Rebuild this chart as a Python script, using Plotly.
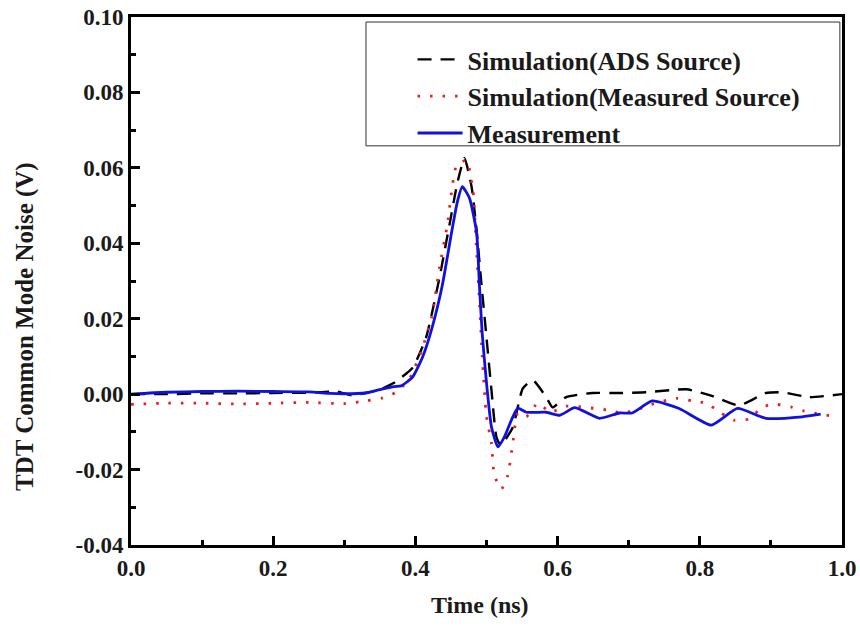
import plotly.graph_objects as go

# Measurement
t_meas = [0, 0.05, 0.1, 0.15, 0.2, 0.25, 0.28, 0.3, 0.33, 0.35, 0.37, 0.38, 0.396, 0.41, 0.424,
          0.438, 0.451, 0.459, 0.466, 0.476, 0.486, 0.49, 0.494, 0.5, 0.507, 0.516, 0.525, 0.535,
          0.544, 0.556, 0.584, 0.603, 0.624, 0.659, 0.687, 0.705, 0.733, 0.771, 0.816, 0.853,
          0.893, 0.944, 0.97]
v_meas = [0.0, 0.0005, 0.0007, 0.0008, 0.0007, 0.0006, 0.0002, 0.0001, 0.0003, 0.0012, 0.002,
          0.0022, 0.0045, 0.0098, 0.018, 0.029, 0.043, 0.051, 0.055, 0.052, 0.043, 0.029, 0.016,
          0.003, -0.0087, -0.014, -0.0114, -0.0069, -0.0037, -0.0048, -0.0048, -0.0056, -0.0036,
          -0.0064, -0.005, -0.005, -0.0018, -0.0038, -0.0082, -0.0038, -0.0064, -0.006, -0.0053]

# Simulation (ADS Source)
t_ads = [0, 0.05, 0.1, 0.15, 0.2, 0.25, 0.29, 0.31, 0.33, 0.35, 0.37, 0.396, 0.415, 0.434, 0.448,
         0.459, 0.469, 0.479, 0.486, 0.493, 0.5, 0.507, 0.514, 0.52, 0.537, 0.551, 0.565, 0.584,
         0.593, 0.612, 0.649, 0.687, 0.725, 0.781, 0.818, 0.855, 0.893, 0.916, 0.954, 1.0]
v_ads = [0.0, 0.0, 0.0002, 0.0002, 0.0003, 0.0004, 0.0007, -0.0003, 0.0003, 0.0012, 0.003, 0.007,
         0.015, 0.031, 0.045, 0.056, 0.0626, 0.055, 0.0435, 0.029, 0.015, 0.001, -0.0114, -0.0135,
         -0.0088, 0.0015, 0.0037, -0.0008, -0.0035, -0.0008, 0.0003, 0.0003, 0.0005, 0.0013,
         -0.0005, -0.003, 0.0003, 0.0005, -0.0008, 0.0]

# Simulation (Measured Source)
t_msrc = [0, 0.05, 0.1, 0.15, 0.2, 0.25, 0.3, 0.33, 0.354, 0.373, 0.392, 0.409, 0.423, 0.434, 0.445,
          0.458, 0.472, 0.481, 0.486, 0.49, 0.494, 0.5, 0.507, 0.511, 0.521, 0.53, 0.537, 0.544,
          0.556, 0.572, 0.59, 0.612, 0.67, 0.691, 0.711, 0.732, 0.768, 0.789, 0.809, 0.83, 0.848,
          0.869, 0.888, 0.907, 0.928, 0.947, 0.986]
v_msrc = [-0.0027, -0.0024, -0.0024, -0.0026, -0.0024, -0.0022, -0.0025, -0.0018, -0.001, 0.0005,
          0.0042, 0.0117, 0.0205, 0.0337, 0.045, 0.0607, 0.062, 0.054, 0.038, 0.025, 0.01, -0.006,
          -0.013, -0.0215, -0.0252, -0.0215, -0.013, -0.005, -0.006, -0.0024, -0.0048, -0.0032,
          -0.0042, -0.005, -0.0042, -0.0027, -0.0011, -0.0018, -0.0024, -0.005, -0.0069, -0.0066,
          -0.0034, -0.0027, -0.0034, -0.0045, -0.0058]

x_ticks = [0.0, 0.2, 0.4, 0.6, 0.8, 1.0]
y_ticks = [-0.04, -0.02, 0.00, 0.02, 0.04, 0.06, 0.08, 0.10]
x_title = "Time (ns)"
y_title = "TDT Common Mode Noise (V)"

FONT = "Liberation Serif"
TXT = "#1a1a1a"

fig = go.Figure()
fig.add_trace(go.Scatter(x=t_ads, y=v_ads, mode="lines", name="<b>Simulation(ADS Source)</b>",
                         line=dict(color="black", width=2.4, dash="14px,9px", shape="spline", smoothing=0.5)))
fig.add_trace(go.Scatter(x=t_msrc, y=v_msrc, mode="lines", name="<b>Simulation(Measured Source)</b>",
                         line=dict(color="#e8201c", width=2.8, dash="2.5px,10px", shape="spline", smoothing=0.5)))
fig.add_trace(go.Scatter(x=t_meas, y=v_meas, mode="lines", name="<b>Measurement</b>",
                         line=dict(color="#1010e0", width=2.8, shape="spline", smoothing=0.5)))

axis_common = dict(
    showgrid=False, zeroline=False, showline=True, linecolor="black", linewidth=3,
    mirror=True, ticks="inside", ticklen=9, tickwidth=2.5, tickcolor="black",
    tickfont=dict(family=FONT, size=23, color=TXT), automargin=False,
)
fig.update_xaxes(range=[0, 1.0], tickvals=x_ticks, ticktext=[f"<b>{v:.1f}</b>" for v in x_ticks],
                 minor=dict(ticks="inside", ticklen=5, tickwidth=2.5, tickcolor="black", dtick=0.1, tick0=0),
                 **axis_common)
fig.update_yaxes(range=[-0.04, 0.10], tickvals=y_ticks, ticktext=[f"<b>{v:.2f}</b>" for v in y_ticks],
                 minor=dict(ticks="inside", ticklen=5, tickwidth=2.5, tickcolor="black", dtick=0.01, tick0=0),
                 **axis_common)

# axis titles (placed as in the reference, slightly off-centre)
fig.add_annotation(text=f"<b>{x_title}</b>", xref="paper", yref="paper", x=0.491, y=-0.114,
                   showarrow=False, xanchor="center", yanchor="middle",
                   font=dict(family=FONT, size=24, color=TXT))
fig.add_annotation(text=f"<b>{y_title}</b>", xref="paper", yref="paper", x=-0.149, y=0.413,
                   showarrow=False, xanchor="center", yanchor="middle", textangle=-90,
                   font=dict(family=FONT, size=25, color=TXT))

# legend frame
fig.add_shape(type="rect", xref="paper", yref="paper", x0=0.3305, x1=0.997, y0=0.756, y1=0.9905,
              line=dict(color="#333", width=1), fillcolor="white", layer="above")

fig.update_layout(
    width=860, height=628,
    margin=dict(l=131, r=18, t=17, b=83, autoexpand=False),
    paper_bgcolor="white", plot_bgcolor="white",
    showlegend=True,
    legend=dict(x=0.396, y=0.964, xanchor="left", yanchor="top",
                bgcolor="rgba(0,0,0,0)", borderwidth=0,
                font=dict(family=FONT, size=26, color=TXT),
                itemwidth=45, tracegroupgap=0),
    font=dict(family=FONT),
)

fig.write_html("out.html", config={"displayModeBar": False},
               post_script="document.body.style.margin='0px';document.body.style.padding='0px';")
